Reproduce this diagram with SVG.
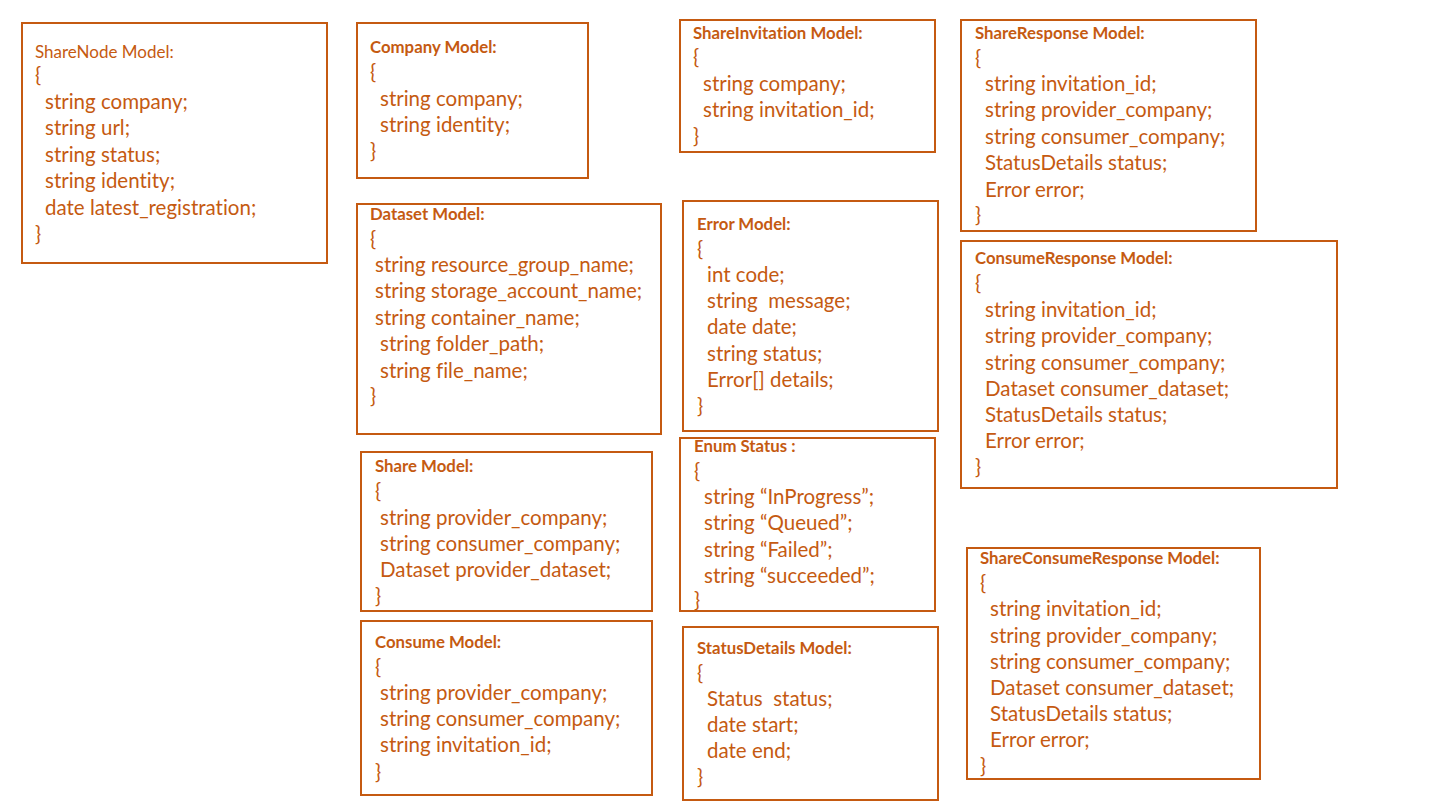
<svg xmlns="http://www.w3.org/2000/svg" width="1443" height="811" viewBox="0 0 1443 811">
<style>
.box{fill:none;stroke:#C55A11;stroke-width:2}
text{font-family:Lato,"Open Sans",sans-serif;fill:#C55A11;font-variant-ligatures:none}
.t{font-size:16.8px;font-weight:bold}
.tn{font-size:17px}
.b{font-size:20.5px}
</style>
<rect width="1443" height="811" fill="#fff"/>
<g id="connectors"/>
<g id="sharenode">
<rect class="box" x="22" y="23" width="305" height="240"/>
<text class="tn" x="35" y="58">ShareNode Model:</text>
<text class="b" x="35" y="82">{</text>
<text class="b" x="45" y="109">string company;</text>
<text class="b" x="45" y="135">string url;</text>
<text class="b" x="45" y="162">string status;</text>
<text class="b" x="45" y="188">string identity;</text>
<text class="b" x="45" y="215">date latest_registration;</text>
<text class="b" x="35" y="241">}</text>
</g>
<g id="company">
<rect class="box" x="357" y="23" width="231" height="155"/>
<text class="t" x="370" y="53">Company Model:</text>
<text class="b" x="370" y="79">{</text>
<text class="b" x="380" y="106">string company;</text>
<text class="b" x="380" y="132">string identity;</text>
<text class="b" x="370" y="158">}</text>
</g>
<g id="shareinvitation">
<rect class="box" x="680" y="20" width="255" height="132"/>
<text class="t" x="693" y="39">ShareInvitation Model:</text>
<text class="b" x="693" y="64">{</text>
<text class="b" x="703" y="91">string company;</text>
<text class="b" x="703" y="117">string invitation_id;</text>
<text class="b" x="693" y="143">}</text>
</g>
<g id="shareresponse">
<rect class="box" x="961" y="20" width="295" height="211"/>
<text class="t" x="975" y="39">ShareResponse Model:</text>
<text class="b" x="975" y="65">{</text>
<text class="b" x="985" y="91">string invitation_id;</text>
<text class="b" x="985" y="117">string provider_company;</text>
<text class="b" x="985" y="144">string consumer_company;</text>
<text class="b" x="985" y="170">StatusDetails status;</text>
<text class="b" x="985" y="197">Error error;</text>
<text class="b" x="975" y="222">}</text>
</g>
<g id="dataset">
<rect class="box" x="357" y="204" width="304" height="230"/>
<text class="t" x="370" y="220">Dataset Model:</text>
<text class="b" x="370" y="246">{</text>
<text class="b" x="375" y="272">string resource_group_name;</text>
<text class="b" x="375" y="298">string storage_account_name;</text>
<text class="b" x="375" y="325">string container_name;</text>
<text class="b" x="380" y="351">string folder_path;</text>
<text class="b" x="380" y="378">string file_name;</text>
<text class="b" x="370" y="403">}</text>
</g>
<g id="error">
<rect class="box" x="683" y="201" width="255" height="230"/>
<text class="t" x="697" y="230">Error Model:</text>
<text class="b" x="697" y="256">{</text>
<text class="b" x="707" y="282">int code;</text>
<text class="b" x="707" y="308" xml:space="preserve">string  message;</text>
<text class="b" x="707" y="334">date date;</text>
<text class="b" x="707" y="361">string status;</text>
<text class="b" x="707" y="387">Error[] details;</text>
<text class="b" x="697" y="413">}</text>
</g>
<g id="consumeresponse">
<rect class="box" x="961" y="241" width="376" height="247"/>
<text class="t" x="975" y="264">ConsumeResponse Model:</text>
<text class="b" x="975" y="290">{</text>
<text class="b" x="985" y="317">string invitation_id;</text>
<text class="b" x="985" y="343">string provider_company;</text>
<text class="b" x="985" y="370">string consumer_company;</text>
<text class="b" x="985" y="396">Dataset consumer_dataset;</text>
<text class="b" x="985" y="422">StatusDetails status;</text>
<text class="b" x="985" y="448">Error error;</text>
<text class="b" x="975" y="474">}</text>
</g>
<g id="share">
<rect class="box" x="361" y="452" width="291" height="159"/>
<text class="t" x="375" y="472">Share Model:</text>
<text class="b" x="375" y="498">{</text>
<text class="b" x="380" y="525">string provider_company;</text>
<text class="b" x="380" y="551">string consumer_company;</text>
<text class="b" x="380" y="577">Dataset provider_dataset;</text>
<text class="b" x="375" y="603">}</text>
</g>
<g id="enumstatus">
<rect class="box" x="680" y="438" width="255" height="173"/>
<text class="t" x="694" y="452">Enum Status :</text>
<text class="b" x="694" y="478">{</text>
<text class="b" x="704" y="504">string “InProgress”;</text>
<text class="b" x="704" y="530">string “Queued”;</text>
<text class="b" x="704" y="557">string “Failed”;</text>
<text class="b" x="704" y="583">string “succeeded”;</text>
<text class="b" x="694" y="607">}</text>
</g>
<g id="consume">
<rect class="box" x="361" y="621" width="291" height="174"/>
<text class="t" x="375" y="648">Consume Model:</text>
<text class="b" x="375" y="674">{</text>
<text class="b" x="380" y="700">string provider_company;</text>
<text class="b" x="380" y="726">string consumer_company;</text>
<text class="b" x="380" y="752">string invitation_id;</text>
<text class="b" x="375" y="779">}</text>
</g>
<g id="statusdetails">
<rect class="box" x="683" y="627" width="255" height="173"/>
<text class="t" x="697" y="654">StatusDetails Model:</text>
<text class="b" x="697" y="680">{</text>
<text class="b" x="707" y="706" xml:space="preserve">Status  status;</text>
<text class="b" x="707" y="732">date start;</text>
<text class="b" x="707" y="758">date end;</text>
<text class="b" x="697" y="784">}</text>
</g>
<g id="shareconsumeresponse">
<rect class="box" x="967" y="548" width="293" height="231"/>
<text class="t" x="980" y="564">ShareConsumeResponse Model:</text>
<text class="b" x="980" y="590">{</text>
<text class="b" x="990" y="616">string invitation_id;</text>
<text class="b" x="990" y="643">string provider_company;</text>
<text class="b" x="990" y="669">string consumer_company;</text>
<text class="b" x="990" y="695">Dataset consumer_dataset;</text>
<text class="b" x="990" y="721">StatusDetails status;</text>
<text class="b" x="990" y="747">Error error;</text>
<text class="b" x="980" y="773">}</text>
</g>
</svg>
